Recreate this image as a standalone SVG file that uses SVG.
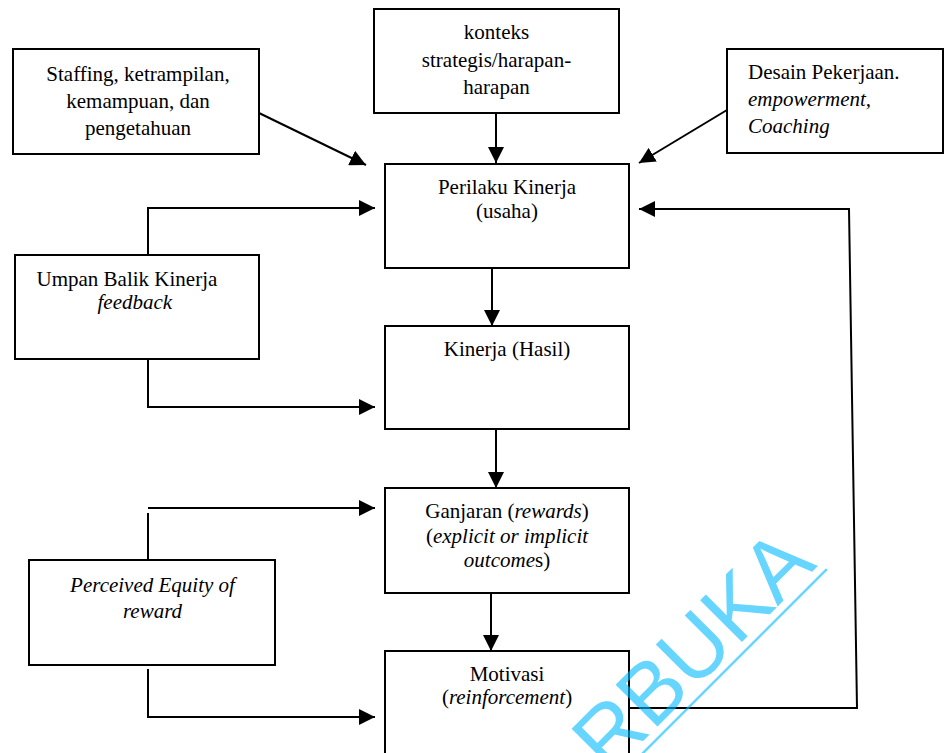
<svg xmlns="http://www.w3.org/2000/svg" width="944" height="753" viewBox="0 0 944 753">
<style>
.box{fill:#fff;stroke:#000;stroke-width:2}
.t{font-family:'Liberation Serif','Tinos','Times New Roman',serif;font-size:21px;fill:#000}
.m{text-anchor:middle}
.i{font-style:italic}
.ln{fill:none;stroke:#000;stroke-width:2}
.wm{font-family:'Liberation Sans',Arial,sans-serif;font-size:86px;fill:#00b9ff;fill-opacity:0.6}
</style>
<defs>
<marker id="ah" markerUnits="userSpaceOnUse" markerWidth="16" markerHeight="16" refX="16" refY="8" orient="auto">
<path d="M0,0 L16,8 L0,16 z" fill="#000"/>
</marker>
</defs>
<rect width="944" height="753" fill="#fff"/>
<g id="staffing">
<rect class="box" x="13" y="49" width="246" height="105"/>
<text class="t m" font-family="Liberation Serif, serif" x="138" y="81">Staffing, ketrampilan,</text>
<text class="t m" font-family="Liberation Serif, serif" x="138" y="108">kemampuan, dan</text>
<text class="t m" font-family="Liberation Serif, serif" x="138" y="135">pengetahuan</text>
</g>
<g id="konteks">
<rect class="box" x="374" y="9" width="245" height="104"/>
<text class="t m" x="496.5" y="39">konteks</text>
<text class="t m" x="496.5" y="67">strategis/harapan-</text>
<text class="t m" x="496.5" y="94">harapan</text>
</g>
<g id="desain">
<rect class="box" x="727" y="49" width="216" height="104"/>
<text class="t" x="748" y="79">Desain Pekerjaan.</text>
<text class="t i" x="748" y="106">empowerment,</text>
<text class="t i" x="748" y="133">Coaching</text>
</g>
<g id="perilaku">
<rect class="box" x="385" y="164" width="244" height="104"/>
<text class="t m" x="507" y="194">Perilaku Kinerja</text>
<text class="t m" x="507" y="218">(usaha)</text>
</g>
<g id="umpan">
<rect class="box" x="15" y="255" width="244" height="104"/>
<text class="t" x="36.5" y="286">Umpan Balik Kinerja</text>
<text class="t i" x="97.5" y="309">feedback</text>
</g>
<g id="kinerja">
<rect class="box" x="385" y="326" width="244" height="103"/>
<text class="t m" x="507" y="356">Kinerja (Hasil)</text>
</g>
<g id="ganjaran">
<rect class="box" x="385" y="488" width="244" height="105"/>
<text class="t m" x="507" y="518">Ganjaran (<tspan class="i">rewards</tspan>)</text>
<text class="t m" x="507" y="543">(<tspan class="i">explicit or implicit</tspan></text>
<text class="t m" x="507" y="567"><tspan class="i">outcome</tspan>s)</text>
</g>
<g id="perceived">
<rect class="box" x="29" y="560" width="246" height="105"/>
<text class="t m i" x="152.5" y="592">Perceived Equity of</text>
<text class="t m i" x="152.5" y="618">reward</text>
</g>
<g id="motivasi">
<rect class="box" x="385" y="651" width="244" height="120"/>
<text class="t m" x="507" y="681">Motivasi</text>
<text class="t m" x="507" y="704">(<tspan class="i">reinforcement</tspan>)</text>
</g>
<g id="connectors">
<line class="ln" x1="259" y1="113" x2="366" y2="165" marker-end="url(#ah)"/>
<line class="ln" x1="496" y1="113" x2="496" y2="163" marker-end="url(#ah)"/>
<line class="ln" x1="727" y1="110" x2="639" y2="163" marker-end="url(#ah)"/>
<path class="ln" d="M148,255 V208 H375" marker-end="url(#ah)"/>
<path class="ln" d="M148,359 V407 H375" marker-end="url(#ah)"/>
<line class="ln" x1="492" y1="268" x2="492" y2="326" marker-end="url(#ah)"/>
<line class="ln" x1="496" y1="429" x2="496" y2="488" marker-end="url(#ah)"/>
<line class="ln" x1="491" y1="593" x2="491" y2="651" marker-end="url(#ah)"/>
<line class="ln" x1="148" y1="560" x2="148" y2="513"/>
<line class="ln" x1="148" y1="508" x2="375" y2="508" marker-end="url(#ah)"/>
<path class="ln" d="M148,669 V717 H375" marker-end="url(#ah)"/>
<path class="ln" d="M629,708 H857 L849,209 H639" marker-end="url(#ah)"/>
</g>
<g id="watermark" transform="translate(818,566) rotate(-45)">
<text class="wm" x="0" y="0" text-anchor="end">RBUKA</text>
<line x1="-330" y1="8.5" x2="4" y2="8.5" stroke="#00b9ff" stroke-opacity="0.6" stroke-width="2.5"/>
</g>
</svg>
